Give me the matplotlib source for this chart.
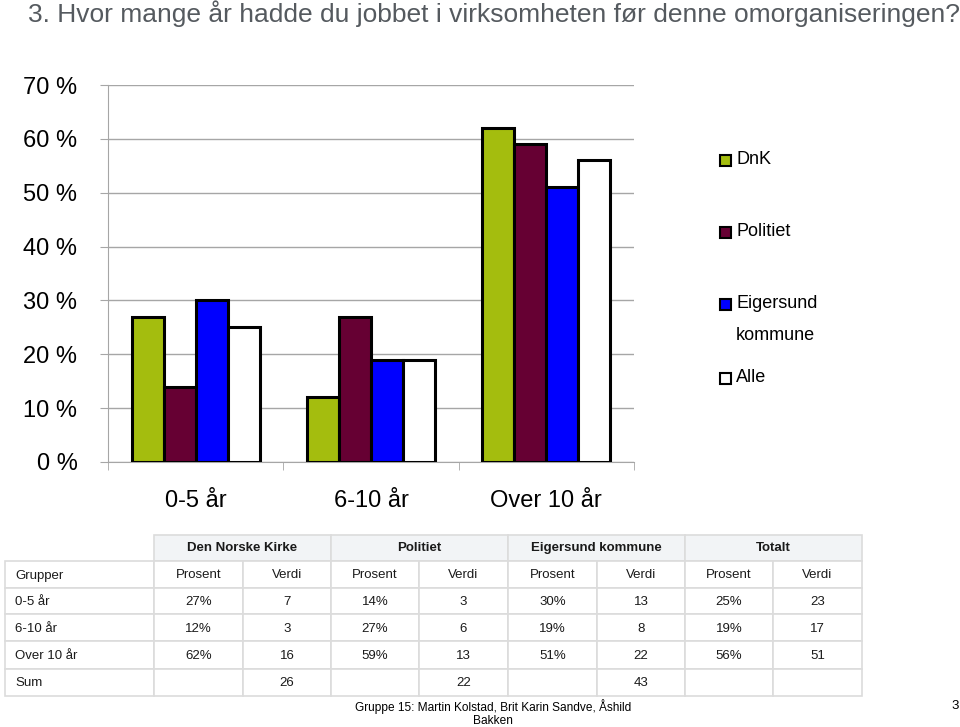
import matplotlib.pyplot as plt
from matplotlib.patches import Rectangle
import numpy as np

# data
kategorier = ["0-5 år", "6-10 år", "Over 10 år"]
serier = ["DnK", "Politiet", "Eigersund\nkommune", "Alle"]
dnk = [27, 12, 62]
politiet = [14, 27, 59]
eigersund = [30, 19, 51]
alle = [25, 19, 56]
farger = ["#a4bd0e", "#660033", "#0000ff", "#ffffff"]

tabell_grupper = ["Den Norske Kirke", "Politiet", "Eigersund kommune", "Totalt"]
tabell_rader = ["0-5 år", "6-10 år", "Over 10 år", "Sum"]
dnk_verdi = [7, 3, 16]
politiet_verdi = [3, 6, 13]
eigersund_verdi = [13, 8, 22]
alle_verdi = [23, 17, 51]
sum_verdi = [26, 22, 43, None]

plt.rcParams['font.family'] = ['Liberation Sans', 'DejaVu Sans']

fig = plt.figure(figsize=(9.6, 7.27), dpi=100)
ax = fig.add_axes([108 / 960, 1 - 462 / 727, 526 / 960, 377 / 727])

x = np.arange(len(kategorier))
w = 0.1825
verdier = [dnk, politiet, eigersund, alle]
for i, (vals, c) in enumerate(zip(verdier, farger)):
    ax.bar(x + (i - 1.5) * w, vals, w, color=c, edgecolor="black", linewidth=2.2, zorder=3)

ax.set_xlim(-0.5, 2.5)
ax.set_ylim(0, 70)
ax.set_yticks(range(0, 71, 10))
ax.set_yticklabels([f"{v} %" for v in range(0, 71, 10)], fontsize=17)
ax.yaxis.grid(True, color="#a6a6a6", linewidth=1.0, zorder=0)
ax.set_xticks(x)
ax.set_xticklabels(kategorier, fontsize=17)
ax.set_xticks([-0.5, 0.5, 1.5, 2.5], minor=True)
ax.tick_params(axis="x", which="major", length=0, pad=20)
ax.tick_params(axis="x", which="minor", length=6, color="#a6a6a6")
ax.tick_params(axis="y", length=6, color="#a6a6a6", pad=16)
for s in ["top", "right"]:
    ax.spines[s].set_visible(False)
ax.spines["left"].set_color("#a6a6a6")
ax.spines["bottom"].set_color("#a6a6a6")

# legend (drawn by hand to match the spacing)
leg_y = [160, 232, 304, 378]
for lab, c, yy in zip(serier, farger, leg_y):
    fig.add_artist(Rectangle((720 / 960, 1 - (yy + 6) / 727), 11 / 960, 11 / 727,
                             facecolor=c, edgecolor="black", linewidth=1.5))
    for k, linje in enumerate(lab.split("\n")):
        fig.text(736 / 960, 1 - (yy + 32 * k) / 727, linje, fontsize=13, va="center")

# title
fig.text(28 / 960, 1 - 14 / 727, "3. Hvor mange år hadde du jobbet i virksomheten før denne omorganiseringen?",
         fontsize=19, color="#555a5f", va="center")

# table
col_x = [5, 154, 243, 331, 419, 508, 597, 685, 773, 862]
row_y = [535, 561, 588, 614, 641, 669, 696]
line_c = "#dcdcdc"


def fx(px):
    return px / 960


def fy(py):
    return 1 - py / 727


# header row
for g, lab in enumerate(tabell_grupper):
    x0, x1 = col_x[1 + 2 * g], col_x[3 + 2 * g]
    fig.add_artist(Rectangle((fx(x0), fy(row_y[1])), fx(x1 - x0), (row_y[1] - row_y[0]) / 727,
                             facecolor="#f2f4f6", edgecolor=line_c, linewidth=1.2))
    fig.text(fx((x0 + x1) / 2), fy((row_y[0] + row_y[1]) / 2), lab, fontsize=9.5,
             fontweight="bold", ha="center", va="center", color="#1a1a1a")

prosent = [dnk, politiet, eigersund, alle]
antall = [dnk_verdi, politiet_verdi, eigersund_verdi, alle_verdi]
body = [["Grupper"] + ["Prosent", "Verdi"] * 4]
for r in range(3):
    rad = [tabell_rader[r]]
    for p, a in zip(prosent, antall):
        rad += [f"{p[r]}%", str(a[r])]
    body.append(rad)
sum_rad = [tabell_rader[3]]
for s in sum_verdi:
    sum_rad += ["", "" if s is None else str(s)]
body.append(sum_rad)

for r, rad in enumerate(body):
    y0, y1 = row_y[r + 1], row_y[r + 2]
    for c, txt in enumerate(rad):
        x0, x1 = col_x[c], col_x[c + 1]
        fig.add_artist(Rectangle((fx(x0), fy(y1)), fx(x1 - x0), (y1 - y0) / 727,
                                 facecolor="white", edgecolor=line_c, linewidth=1.2))
        if c == 0:
            fig.text(fx(x0 + 10), fy((y0 + y1) / 2 + 1), txt, fontsize=9.5, ha="left", va="center", color="#1a1a1a")
        else:
            fig.text(fx((x0 + x1) / 2), fy((y0 + y1) / 2 + 1), txt, fontsize=9.5, ha="center", va="center", color="#1a1a1a")

fig.text(fx(493), fy(713), "Gruppe 15: Martin Kolstad, Brit Karin Sandve, Åshild\nBakken",
         fontsize=8.6, ha="center", va="center", linespacing=1.2, color="black")
fig.text(fx(955), fy(706), "3", fontsize=9.5, ha="center", va="center")

plt.savefig("out.png", dpi=100)
plt.close()
